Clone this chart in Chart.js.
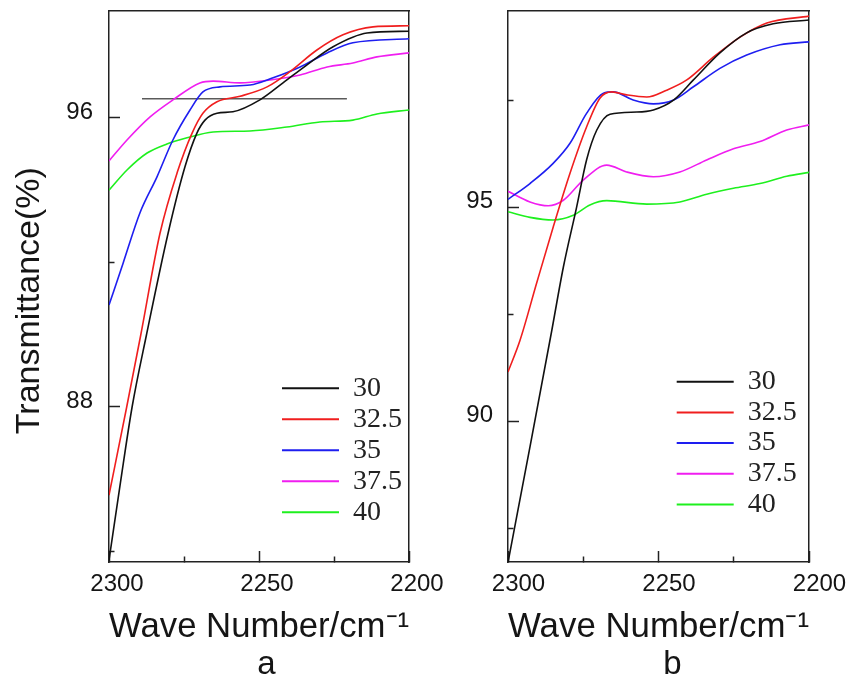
<!DOCTYPE html>
<html>
<head>
<meta charset="utf-8">
<script src="https://cdn.jsdelivr.net/npm/chart.js@4.4.1/dist/chart.umd.min.js"></script>
<style>
html,body{margin:0;padding:0;background:#fff;}
#wrap{position:relative;width:854px;height:681px;overflow:hidden;background:#fff;}
canvas{position:absolute;top:0;}
#ca{left:0;}
#cb{left:452px;}
</style>
</head>
<body>
<div id="wrap">
<canvas id="ca" width="452" height="681"></canvas>
<canvas id="cb" width="402" height="681"></canvas>
</div>
<script>
// ---------- data ----------
const seriesNames = ['30', '32.5', '35', '37.5', '40'];
const seriesColors = ['#111111', '#f01e1e', '#1e1ef0', '#f01ef0', '#1ef01e'];

const xTickValues = [2300, 2275, 2250, 2225, 2200];
const xTickLabels = [2300, 2250, 2200];
const aYTickValues = [84, 88, 92, 96];
const aYTickLabels = [88, 96];
const bYTickValues = [87.5, 90, 92.5, 95, 97.5];
const bYTickLabels = [90, 95];

// panel a
const aX30 = [2300, 2296.2, 2292.3, 2287.5, 2280.3, 2274.7, 2270.7, 2268, 2264, 2258.7, 2249.7, 2242, 2234, 2225.3, 2214, 2200];
const aY30 = [83.76, 85.9, 88.0, 90.0, 92.81, 94.64, 95.58, 95.94, 96.13, 96.17, 96.5, 96.97, 97.47, 97.97, 98.35, 98.4];
const aX32 = [2300, 2294.1, 2289.4, 2283, 2277.3, 2272.3, 2268.7, 2264, 2256.3, 2247.3, 2239.7, 2230.7, 2222, 2212, 2200];
const aY32 = [85.56, 88.0, 90.0, 92.81, 94.48, 95.58, 96.13, 96.45, 96.6, 96.86, 97.28, 97.88, 98.3, 98.52, 98.55];
const aX35 = [2300, 2295.3, 2289.7, 2284, 2278.7, 2273, 2268.7, 2263, 2253, 2245.3, 2236.3, 2227.3, 2218.7, 2200];
const aY35 = [90.82, 91.98, 93.37, 94.37, 95.39, 96.22, 96.72, 96.86, 96.91, 97.11, 97.41, 97.8, 98.08, 98.19];
const aX37 = [2300, 2294, 2286.3, 2278.7, 2269.7, 2265.3, 2256.3, 2246.3, 2236.3, 2227.3, 2218.7, 2210.7, 2200];
const aY37 = [94.81, 95.39, 96.03, 96.5, 96.97, 97.02, 96.97, 97.05, 97.19, 97.41, 97.52, 97.69, 97.8];
const aX40 = [2300, 2294, 2287.3, 2280.7, 2274, 2265.3, 2253, 2240.7, 2229.7, 2218.7, 2210.7, 2200];
const aY40 = [94.0, 94.56, 95.03, 95.28, 95.45, 95.61, 95.64, 95.75, 95.89, 95.94, 96.11, 96.22];
const aRefX = [2289, 2220.7];
const aRefY = [96.53, 96.53];

// panel b
const bX30 = [2300, 2292.7, 2285.5, 2281.6, 2277.2, 2273.9, 2270.5, 2266.1, 2257.2, 2251.7, 2245, 2238.4, 2229.6, 2220.7, 2211.9, 2200];
const bY30 = [86.7, 89.4, 92.1, 93.6, 95.0, 96.1, 96.8, 97.17, 97.22, 97.27, 97.5, 97.97, 98.6, 99.07, 99.28, 99.37];
const bX32 = [2300, 2296, 2290.5, 2285, 2279.4, 2273.9, 2269.4, 2265.5, 2260.6, 2253.9, 2247.3, 2240.6, 2231.8, 2222.9, 2214, 2200];
const bY32 = [91.15, 91.89, 93.22, 94.53, 95.79, 96.87, 97.55, 97.69, 97.62, 97.57, 97.73, 97.97, 98.5, 98.97, 99.3, 99.46];
const bX35 = [2300, 2292.7, 2285, 2279.4, 2273.9, 2268.3, 2265, 2258.4, 2251.7, 2245, 2238.4, 2229.6, 2220.7, 2209.6, 2200];
const bY35 = [95.18, 95.55, 96.02, 96.49, 97.19, 97.66, 97.69, 97.5, 97.41, 97.5, 97.81, 98.24, 98.55, 98.79, 98.86];
const bX37 = [2300, 2292.7, 2286.6, 2281.6, 2275, 2267.2, 2260.6, 2251.7, 2242.9, 2234, 2225.1, 2216.3, 2207.4, 2200];
const bY37 = [95.37, 95.12, 95.03, 95.16, 95.63, 95.98, 95.82, 95.71, 95.82, 96.1, 96.36, 96.53, 96.8, 96.92];
const bX40 = [2300, 2292.7, 2285, 2278.3, 2272.8, 2267.2, 2253.9, 2242.9, 2234, 2225.1, 2216.3, 2207.4, 2200];
const bY40 = [94.89, 94.76, 94.7, 94.81, 95.05, 95.15, 95.07, 95.12, 95.3, 95.44, 95.55, 95.72, 95.81];

// ---------- rendering ----------
const SANS = '"Liberation Sans", Arial, sans-serif';
const SERIF = '"Liberation Serif", "Times New Roman", serif';
const INK = '#151515';
const FRAME = '#222222';

function pts(xs, ys) { return xs.map((x, i) => ({x: x, y: ys[i]})); }

function placer(o) {
  return {
    id: 'placer',
    beforeDraw(chart) {
      const lg = chart.legend;
      if (lg) {
        lg.left = o.legendLeft; lg.top = o.legendTop;
        lg.right = o.legendLeft + 170; lg.bottom = o.legendTop + 190;
        lg.width = 170; lg.height = 190;
      }
      const t = chart.titleBlock;
      if (t) {
        t.left = chart.chartArea.left + o.titleShift;
        t.right = chart.chartArea.right + o.titleShift;
      }
    }
  };
}

function makeChart(id, p) {
  const datasets = p.series.map((s, i) => ({
    label: seriesNames[i],
    data: pts(s[0], s[1]),
    borderColor: seriesColors[i],
    backgroundColor: seriesColors[i],
    borderWidth: 1.6,
    pointRadius: 0,
    fill: false,
    cubicInterpolationMode: 'monotone'
  }));
  if (p.ref) {
    datasets.push({
      label: '',
      data: pts(p.ref[0], p.ref[1]),
      borderColor: '#5a5a5a',
      backgroundColor: '#5a5a5a',
      borderWidth: 1.6,
      pointRadius: 0,
      fill: false
    });
  }
  const yTitle = p.yTitle ? {
    display: true, text: p.yTitle, color: INK,
    font: {family: SANS, size: 34, lineHeight: 1},
    padding: {top: 13, bottom: 0}
  } : {display: false};

  return new Chart(document.getElementById(id), {
    type: 'line',
    data: {datasets: datasets},
    plugins: [placer(p)],
    options: {
      responsive: false,
      animation: false,
      devicePixelRatio: 1,
      layout: {padding: {top: 11, right: p.padRight, bottom: 0, left: 0}},
      plugins: {
        tooltip: {enabled: false},
        title: {
          display: true, text: p.label, position: 'bottom', fullSize: false,
          color: INK, font: {family: SANS, size: 33, weight: 'normal', lineHeight: 1},
          padding: {top: 3, bottom: 0}
        },
        legend: {
          display: true, position: 'chartArea', align: 'start',
          labels: {
            font: {family: SERIF, size: 28},
            color: '#222',
            boxWidth: 57, boxHeight: 2,
            padding: p.legendPad,
            generateLabels: (chart) => Chart.defaults.plugins.legend.labels.generateLabels(chart)
              .filter(it => it.text !== '')
              .map(it => Object.assign({}, it, {fillStyle: it.strokeStyle, lineWidth: 0}))
          }
        }
      },
      scales: {
        x: {
          type: 'linear', position: 'bottom', min: 2200, max: 2300, reverse: true,
          afterBuildTicks: s => { s.ticks = xTickValues.map(v => ({value: v})); },
          ticks: {
            autoSkip: false, maxRotation: 0, minRotation: 0, padding: 18.6, color: INK,
            labelOffset: p.xLabelShift,
            font: {family: SANS, size: 24},
            callback: v => xTickLabels.includes(v) ? String(v) : ''
          },
          grid: {
            display: true, drawOnChartArea: false, drawTicks: true, tickLength: -11,
            tickWidth: 1.5, tickColor: FRAME,
            tickBorderDash: c => (c.tick && xTickLabels.includes(c.tick.value)) ? [] : [6, 30]
          },
          border: {display: true, color: FRAME, width: 1.5},
          title: {
            display: true, text: 'Wave Number/cm\u207B\u00B9', color: INK,
            font: {family: SANS, size: 35, lineHeight: 1},
            padding: {top: 0, bottom: 0}
          },
          afterFit: s => { s.height = 83; s.paddingLeft = 0; s.paddingRight = 0; }
        },
        x2: {
          type: 'linear', position: 'top', min: 2200, max: 2300, reverse: true,
          ticks: {display: false},
          grid: {display: false, drawTicks: false},
          border: {display: true, color: FRAME, width: 1.5},
          afterFit: s => { s.height = 0; s.paddingLeft = 0; s.paddingRight = 0; }
        },
        y: {
          type: 'linear', position: 'left', min: p.yMin, max: p.yMax,
          afterBuildTicks: s => { s.ticks = p.yTicks.map(v => ({value: v})); },
          ticks: {
            padding: p.yLabelPad, labelOffset: -6, color: INK,
            font: {family: SANS, size: 24},
            callback: v => p.yLabels.includes(v) ? String(v) : ''
          },
          grid: {
            display: true, drawOnChartArea: false, drawTicks: true, tickLength: -11,
            tickWidth: 1.5, tickColor: FRAME,
            tickBorderDash: c => (c.tick && p.yLabels.includes(c.tick.value)) ? [] : [0, 5.5, 7, 30]
          },
          border: {display: true, color: FRAME, width: 1.5},
          title: yTitle,
          afterFit: s => { s.width = p.yWidth; s.paddingTop = 0; s.paddingBottom = 0; }
        },
        y2: {
          type: 'linear', position: 'right', min: p.yMin, max: p.yMax,
          ticks: {display: false},
          grid: {display: false, drawTicks: false},
          border: {display: true, color: FRAME, width: 1.5},
          afterFit: s => { s.width = 0; s.paddingTop = 0; s.paddingBottom = 0; }
        }
      }
    }
  });
}

makeChart('ca', {
  series: [[aX30, aY30], [aX32, aY32], [aX35, aY35], [aX37, aY37], [aX40, aY40]],
  ref: [aRefX, aRefY],
  yMin: 83.71, yMax: 98.96,
  yTicks: aYTickValues, yLabels: aYTickLabels,
  yWidth: 109, yLabelPad: 27, padRight: 43,
  yTitle: 'Transmittance(%)   ',
  xLabelShift: 8,
  label: 'a', titleShift: 7.5,
  legendLeft: 279, legendTop: 371.3, legendPad: 3
});

makeChart('cb', {
  series: [[bX30, bY30], [bX32, bY32], [bX35, bY35], [bX37, bY37], [bX40, bY40]],
  ref: null,
  yMin: 86.71, yMax: 99.58,
  yTicks: bYTickValues, yLabels: bYTickLabels,
  yWidth: 56, yLabelPad: 26, padRight: 45,
  yTitle: null,
  xLabelShift: 10.5,
  label: 'b', titleShift: 14,
  legendLeft: 222, legendTop: 365, legendPad: 2.7
});
</script>
</body>
</html>
